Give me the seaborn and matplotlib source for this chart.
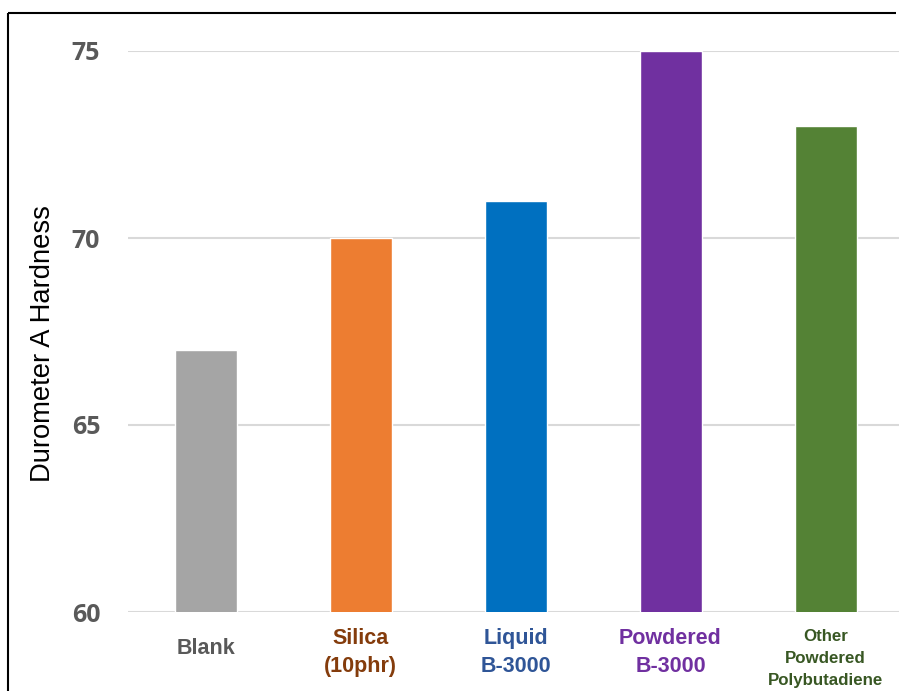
import matplotlib
matplotlib.use("Agg")
import matplotlib.pyplot as plt
import matplotlib.transforms as mtrans
import seaborn as sns
import pandas as pd
from matplotlib.lines import Line2D

categories = ["Blank", "Silica\n(10phr)", "Liquid\nB-3000", "Powdered\nB-3000", "Other\nPowdered\nPolybutadiene"]
hardness = [67, 70, 71, 75, 73]
bar_colors = ["#A5A5A5", "#ED7D31", "#0070C0", "#7030A0", "#548235"]
label_colors = ["#595959", "#843C0C", "#2F5597", "#7030A0", "#385723"]
label_sizes = [15.5, 15.5, 15.5, 15.5, 12.2]
label_spacing = [1.4, 1.4, 1.4, 1.4, 1.6]
label_shift_px = [1, -3, -3, -3, -9]
yticks = [60, 65, 70, 75]

sns.set_theme(style="white")
plt.rcParams['font.family'] = ['Liberation Sans', 'DejaVu Sans']

df = pd.DataFrame({"cat": categories, "val": hardness})

fig = plt.figure(figsize=(8.99, 6.91), dpi=100)
fig.patch.set_linewidth(0)
ax = fig.add_axes([128/899, 79/691, 775/899, 561/691])
sns.barplot(data=df, x="cat", y="val", hue="cat", palette=bar_colors,
            width=0.4, legend=False, ax=ax, saturation=1)

ax.set_ylim(60, 75)
ax.set_xlim(-0.5, 4.5)
ax.set_yticks(yticks)
ax.set_yticklabels([str(t) for t in yticks], fontsize=18, fontweight="bold",
                   color="#595959", family=["Open Sans", "DejaVu Sans"])
ax.tick_params(axis="y", length=0, pad=20)
ax.tick_params(axis="x", length=0, pad=27)
ax.yaxis.grid(True, color="#D9D9D9", linewidth=1.5)
ax.xaxis.grid(False)
ax.set_axisbelow(True)
for s in ax.spines.values():
    s.set_visible(False)
ax.patch.set_visible(False)

ax.set_xlabel("")
ax.set_ylabel("")
fig.text(43/899, 1 - 344/691, "Durometer A Hardness", rotation=90,
         ha="center", va="center", fontsize=19.7, color="black")

for lbl, c, fs, ls, sh in zip(ax.get_xticklabels(), label_colors, label_sizes,
                              label_spacing, label_shift_px):
    lbl.set_color(c)
    lbl.set_fontweight("bold")
    lbl.set_fontsize(fs)
    lbl.set_linespacing(ls)
    lbl.set_va("center")
    lbl.set_transform(lbl.get_transform() +
                      mtrans.ScaledTranslation(0, sh / 100, fig.dpi_scale_trans))

fig.add_artist(Line2D([8/899, 896/899], [1 - 13/691, 1 - 13/691],
                      transform=fig.transFigure, color="black", linewidth=1.5,
                      solid_capstyle="butt"))
fig.add_artist(Line2D([8/899, 8/899], [0.0, 1 - 13/691],
                      transform=fig.transFigure, color="black", linewidth=1.5,
                      solid_capstyle="butt"))

fig.savefig("out.png", dpi=100)
